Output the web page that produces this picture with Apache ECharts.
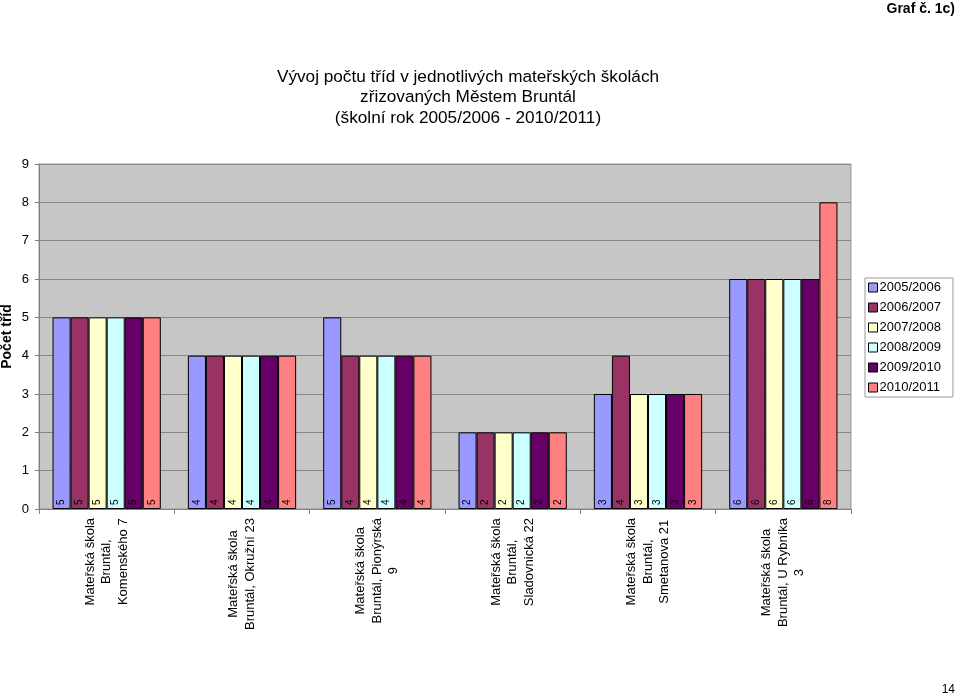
<!DOCTYPE html>
<html>
<head>
<meta charset="utf-8">
<script src="https://cdn.jsdelivr.net/npm/echarts@6/dist/echarts.min.js"></script>
<style>
html,body{margin:0;padding:0;background:#fff;}
#c{width:959px;height:697px;}
</style>
</head>
<body>
<div id="c"></div>
<script>
const categories = [
  "Mateřská škola\nBruntál,\nKomenského 7",
  "Mateřská škola\nBruntál, Okružní 23",
  "Mateřská škola\nBruntál, Pionýrská\n9",
  "Mateřská škola\nBruntál,\nSladovnická 22",
  "Mateřská škola\nBruntál,\nSmetanova 21",
  "Mateřská škola\nBruntál, U Rybníka\n3"
];
const years = ["2005/2006", "2006/2007", "2007/2008", "2008/2009", "2009/2010", "2010/2011"];
const v2005 = [5, 4, 5, 2, 3, 6];
const v2006 = [5, 4, 4, 2, 4, 6];
const v2007 = [5, 4, 4, 2, 3, 6];
const v2008 = [5, 4, 4, 2, 3, 6];
const v2009 = [5, 4, 4, 2, 3, 6];
const v2010 = [5, 4, 4, 2, 3, 8];
const yTicks = [0, 1, 2, 3, 4, 5, 6, 7, 8, 9];
const colors = ["#9999FF", "#993366", "#FFFFCC", "#CCFFFF", "#660066", "#FF8080"];

const values = [v2005, v2006, v2007, v2008, v2009, v2010];
const FONT = "'Liberation Sans', Arial, sans-serif";

const chart = echarts.init(document.getElementById('c'), null, {renderer: 'canvas'});
chart.setOption({
  animation: false,
  backgroundColor: '#ffffff',
  textStyle: {fontFamily: FONT},
  color: colors,
  title: [
    {
      text: "Vývoj počtu tříd v jednotlivých mateřských školách\nzřizovaných Městem Bruntál\n(školní rok 2005/2006 - 2010/2011)",
      left: 468, top: 67, textAlign: 'center', padding: 0,
      textStyle: {fontFamily: FONT, fontSize: 17.2, fontWeight: 'normal', color: '#000', lineHeight: 20.5}
    },
    {
      text: "Graf č. 1c)", right: 4, top: 2, padding: 0,
      textStyle: {fontFamily: FONT, fontSize: 14, fontWeight: 'bold', color: '#000'}
    },
    {
      text: "14", right: 4, top: 684, padding: 0,
      textStyle: {fontFamily: FONT, fontSize: 12, fontWeight: 'normal', color: '#000'}
    }
  ],
  legend: {
    orient: 'vertical',
    left: 865, top: 278,
    itemWidth: 9, itemHeight: 9, itemGap: 7,
    padding: [3, 12, 3, 3],
    backgroundColor: '#ffffff',
    borderColor: '#999999', borderWidth: 1,
    borderRadius: 0,
    icon: 'rect',
    itemStyle: {borderColor: '#000', borderWidth: 1},
    textStyle: {fontFamily: FONT, fontSize: 13, color: '#000', padding: [0, 0, 0, -3]},
    data: years
  },
  grid: {
    left: 39, right: 108, top: 164, bottom: 188,
    show: true, backgroundColor: '#C6C6C6', borderColor: '#999999', borderWidth: 1,
    containLabel: false, outerBoundsMode: 'none'
  },
  xAxis: {
    type: 'category',
    data: categories,
    axisLine: {show: true, lineStyle: {color: '#808080', width: 1}},
    axisTick: {show: true, length: 5, lineStyle: {color: '#808080'}},
    axisLabel: {
      interval: 0, rotate: 90, margin: 9,
      fontFamily: FONT, fontSize: 13, color: '#000',
      formatter: function (v) { return v.split('\n').map(s => '{c|' + s + '}').join('\n'); },
      rich: {c: {align: 'center', fontFamily: FONT, fontSize: 13, lineHeight: 16.5, color: '#000'}}
    }
  },
  yAxis: {
    type: 'value', min: 0, max: 9, interval: 1,
    name: 'Počet tříd', nameLocation: 'middle', nameGap: 25, nameRotate: 90,
    nameMoveOverlap: false,
    nameTextStyle: {fontFamily: FONT, fontSize: 14, fontWeight: 'bold', color: '#000'},
    axisLine: {show: true, lineStyle: {color: '#808080'}},
    axisTick: {show: true, length: 4, lineStyle: {color: '#808080'}},
    axisLabel: {fontFamily: FONT, fontSize: 13, color: '#000', margin: 10,
      formatter: function (v) { return yTicks.indexOf(v) >= 0 ? String(v) : ''; }},
    splitLine: {show: true, lineStyle: {color: '#888888', width: 1}}
  },
  series: years.map((y, i) => ({
    name: y, type: 'bar',
    data: values[i],
    barGap: '0%', barCategoryGap: '20%',
    itemStyle: {color: colors[i], borderColor: '#000', borderWidth: 1},
    label: {
      show: true, position: 'insideBottom', distance: 4, rotate: 90,
      align: 'left', verticalAlign: 'middle',
      fontFamily: FONT, fontSize: 10, color: '#000'
    }
  }))
});
</script>
</body>
</html>
